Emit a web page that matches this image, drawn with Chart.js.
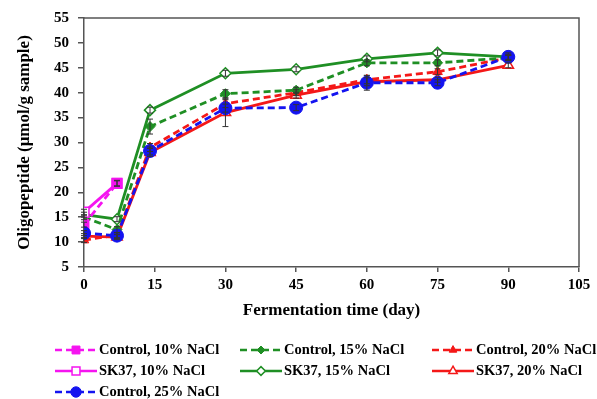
<!DOCTYPE html>
<html>
<head>
<meta charset="utf-8">
<script src="https://cdn.jsdelivr.net/npm/chart.js@4.4.1/dist/chart.umd.min.js"></script>
<style>
  html, body { margin: 0; padding: 0; background: #fff; }
  #wrap { width: 597px; height: 399px; position: relative; }
</style>
</head>
<body>
<div id="wrap"><canvas id="c" width="597" height="399"></canvas></div>
<script>
// ---- data ----
const days = [0, 7, 14, 30, 45, 60, 75, 90];
const xTicks = [0, 15, 30, 45, 60, 75, 90, 105];
const yTicks = [5, 10, 15, 20, 25, 30, 35, 40, 45, 50, 55];

const ctrl10 = [13.5, 21.8];
const sk10   = [16.0, 21.8];
const ctrl15 = [15.0, 12.5, 33.2, 39.8, 40.5, 46.0, 46.0, 47.0];
const sk15   = [15.5, 14.6, 36.5, 43.9, 44.7, 46.8, 48.0, 47.2];
const ctrl20 = [10.4, 11.4, 29.0, 37.8, 40.0, 42.6, 44.2, 47.0];
const sk20   = [11.2, 11.0, 28.0, 36.0, 39.5, 42.2, 42.6, 45.5];
const ctrl25 = [11.8, 11.3, 28.3, 36.9, 37.0, 42.0, 42.0, 47.2];

const errCtrl10 = [0.5, 0.6];
const errSk10   = [0.6, 0.5];
const errCtrl15 = [0.5, 0.6, 1.5, 0.8, 0.6, 0.6, 0.6, 0.5];
const errSk15   = [0.5, 0.5, 0.6, 0.6, 0.5, 0.6, 0.6, 0.5];
const errCtrl20 = [0.5, 0.5, 0.8, 0.8, 0.6, 0.8, 0.6, 0.5];
const errSk20   = [0.5, 0.5, 0.8, 2.8, 0.6, 0.8, 0.5, 0.5];
const errCtrl25 = [0.5, 0.6, 0.8, 0.8, 0.6, 1.5, 0.6, 0.8];

const labels = {
  ctrl10: 'Control, 10% NaCl', ctrl15: 'Control, 15% NaCl', ctrl20: 'Control, 20% NaCl',
  sk10: 'SK37, 10% NaCl', sk15: 'SK37, 15% NaCl', sk20: 'SK37, 20% NaCl',
  ctrl25: 'Control, 25% NaCl'
};

const MAG = '#f514f0', GRN = '#1f8f24', RED = '#f41818', BLU = '#1414f0';
const FONT = "'Liberation Serif', 'Times New Roman', serif";
const DASH = [7, 4];

function pts(vals) { return vals.map((v, i) => ({ x: days[i], y: v })); }

function ds(key, vals, errs, color, style, filled, dashed, radius) {
  return {
    key: key,
    label: labels[key],
    data: pts(vals),
    errors: errs,
    borderColor: color,
    backgroundColor: color,
    borderWidth: 2.8,
    borderDash: dashed ? DASH : [],
    pointStyle: style,
    pointRadius: radius,
    pointBorderWidth: filled ? 1 : 1.5,
    pointBorderColor: color,
    pointBackgroundColor: filled ? color : '#ffffff',
    tension: 0,
    fill: false
  };
}

const datasets = [
  ds('ctrl25', ctrl25, errCtrl25, BLU, 'circle', true, true, 6.5),
  ds('ctrl10', ctrl10, errCtrl10, MAG, 'rect', true, true, 7),
  ds('sk10',   sk10,   errSk10,   MAG, 'rect', false, false, 7),
  ds('ctrl15', ctrl15, errCtrl15, GRN, 'rectRot', true, true, 5),
  ds('sk15',   sk15,   errSk15,   GRN, 'rectRot', false, false, 5.5),
  ds('ctrl20', ctrl20, errCtrl20, RED, 'triangle', true, true, 5.5),
  ds('sk20',   sk20,   errSk20,   RED, 'triangle', false, false, 6)
];

const legendOrder = ['ctrl10', 'ctrl15', 'ctrl20', 'sk10', 'sk15', 'sk20', 'ctrl25'];

// error bars drawn through the scales
const errorBars = {
  id: 'errorBars',
  afterDatasetsDraw(chart) {
    const { ctx, scales: { x, y } } = chart;
    ctx.save();
    ctx.strokeStyle = '#333';
    ctx.lineWidth = 1;
    ctx.setLineDash([]);
    chart.data.datasets.forEach(d => {
      d.data.forEach((p, i) => {
        const e = d.errors[i];
        if (!e) return;
        const px = x.getPixelForValue(p.x);
        const y1 = y.getPixelForValue(p.y - e), y2 = y.getPixelForValue(p.y + e);
        ctx.beginPath();
        ctx.moveTo(px, y1); ctx.lineTo(px, y2);
        ctx.moveTo(px - 3, y1); ctx.lineTo(px + 3, y1);
        ctx.moveTo(px - 3, y2); ctx.lineTo(px + 3, y2);
        ctx.stroke();
      });
    });
    ctx.restore();
  }
};

// top and right frame lines
const frame = {
  id: 'frame',
  afterDraw(chart) {
    const { ctx, chartArea: a } = chart;
    ctx.save();
    ctx.strokeStyle = '#555';
    ctx.lineWidth = 1.5;
    ctx.beginPath();
    ctx.moveTo(a.left, a.top); ctx.lineTo(a.right, a.top); ctx.lineTo(a.right, a.bottom);
    ctx.stroke();
    ctx.restore();
  }
};

function drawMarker(ctx, d, cx, cy) {
  if (Chart.helpers && Chart.helpers.drawPoint) {
    ctx.save();
    ctx.fillStyle = d.pointBackgroundColor;
    ctx.strokeStyle = d.pointBorderColor;
    ctx.lineWidth = d.pointBorderWidth;
    ctx.setLineDash([]);
    Chart.helpers.drawPoint(ctx, { pointStyle: d.pointStyle, radius: d.pointRadius * 0.8, rotation: 0, borderWidth: d.pointBorderWidth }, cx, cy);
    ctx.restore();
  }
}

// three-column legend below the plot
const gridLegend = {
  id: 'gridLegend',
  afterDraw(chart) {
    const { ctx } = chart;
    const colX = [55, 240, 432];
    const rowY = [350, 371, 392];
    const sampleW = 42;
    ctx.save();
    legendOrder.forEach((key, i) => {
      const d = chart.data.datasets.find(s => s.key === key);
      const cx = colX[i % 3], cy = rowY[Math.floor(i / 3)];
      ctx.strokeStyle = d.borderColor;
      ctx.lineWidth = 2.5;
      ctx.setLineDash(d.borderDash);
      ctx.beginPath();
      ctx.moveTo(cx, cy); ctx.lineTo(cx + sampleW, cy);
      ctx.stroke();
      drawMarker(ctx, d, cx + sampleW / 2, cy);
      ctx.setLineDash([]);
      ctx.fillStyle = '#000';
      ctx.font = "bold 14.5px " + FONT;
      ctx.textBaseline = 'middle';
      ctx.textAlign = 'left';
      ctx.fillText(d.label, cx + sampleW + 2, cy);
    });
    ctx.restore();
  }
};

const tickFont = { family: FONT, size: 15, weight: 'bold' };

new Chart(document.getElementById('c'), {
  type: 'line',
  data: { datasets: datasets },
  options: {
    responsive: false,
    animation: false,
    layout: { padding: { left: 0, right: 18, top: 18, bottom: 74 } },
    plugins: { legend: { display: false }, tooltip: { enabled: false } },
    scales: {
      x: {
        type: 'linear',
        min: 0, max: 105,
        afterBuildTicks(s) { s.ticks = xTicks.map(v => ({ value: v })); },
        afterFit(s) { s.height = 58; },
        ticks: { font: tickFont, color: '#000', padding: 4, maxRotation: 0, autoSkip: false },
        grid: { display: true, drawOnChartArea: false, drawTicks: true, tickLength: 5, color: '#555', lineWidth: 1.5 },
        border: { display: true, color: '#555', width: 1.5 },
        title: { display: true, text: 'Fermentation time (day)', font: { family: FONT, size: 17, weight: 'bold' }, color: '#000', padding: { top: 0, bottom: 4 } }
      },
      y: {
        type: 'linear',
        min: 5, max: 55,
        afterBuildTicks(s) { s.ticks = yTicks.map(v => ({ value: v })); },
        afterFit(s) { s.width = 84; },
        ticks: { font: tickFont, color: '#000', padding: 9, autoSkip: false },
        grid: { display: true, drawOnChartArea: false, drawTicks: true, tickLength: 6, color: '#555', lineWidth: 1.5 },
        border: { display: true, color: '#555', width: 1.5 },
        title: { display: true, text: 'Oligopeptide (μmol/g sample)', font: { family: FONT, size: 17, weight: 'bold' }, color: '#000', padding: { top: 14, bottom: 0 } }
      }
    }
  },
  plugins: [errorBars, frame, gridLegend]
});
</script>
</body>
</html>
